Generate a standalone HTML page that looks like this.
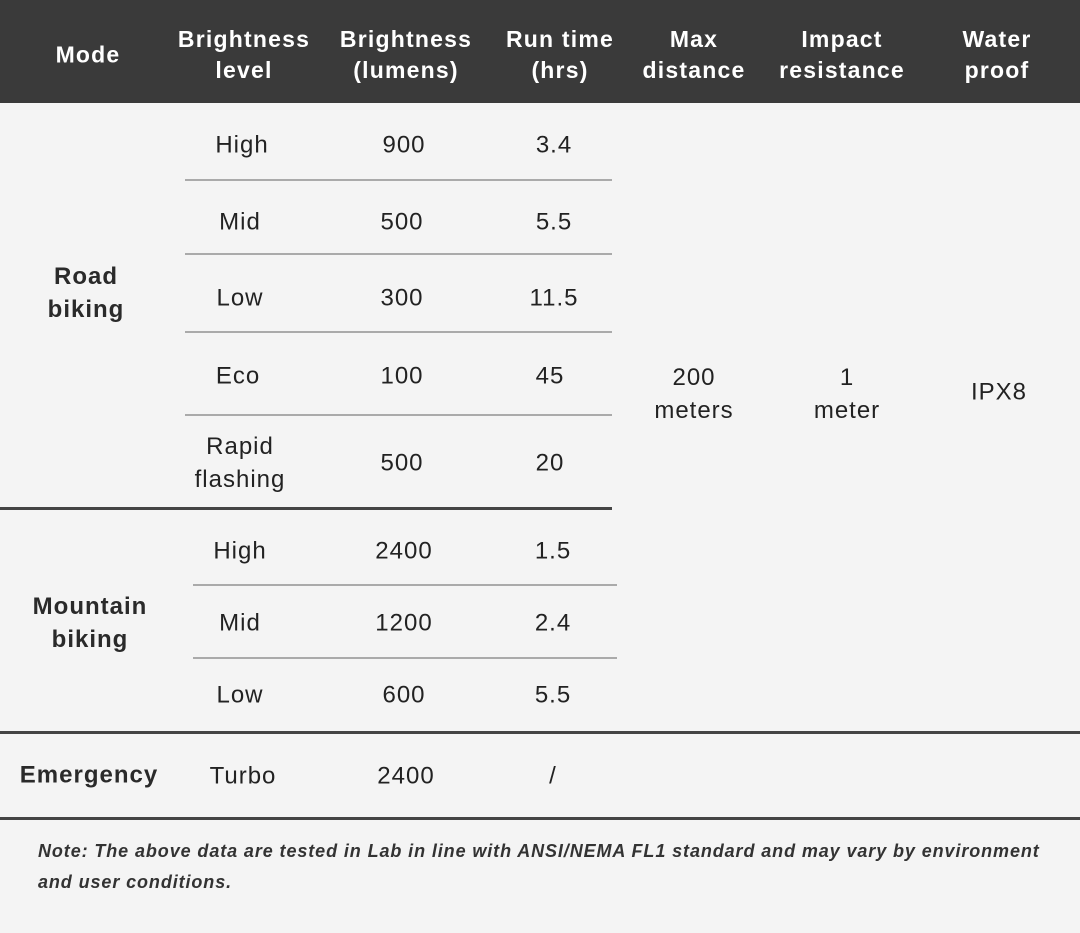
<!DOCTYPE html><html><head><style>
body{margin:0;width:1080px;height:933px;background:#f4f4f4;font-family:"Liberation Sans",sans-serif;color:#222;position:relative;overflow:hidden}
.h{position:absolute;top:0;left:0;width:1080px;height:103px;background:#3a3a3a}
.t{position:absolute;transform:translate(-50%,-50%);text-align:center;font-size:24px;line-height:33px;white-space:nowrap;letter-spacing:1px}
.w{color:#fff;font-weight:bold;font-size:23px;line-height:31px;letter-spacing:1.2px}
.b{font-weight:bold;color:#2a2a2a}
.l{position:absolute;background:#aaa;height:2px}
.k{position:absolute;background:#444;height:3px}
.n{position:absolute;left:38px;top:836px;font-size:18px;font-style:italic;font-weight:bold;color:#333;line-height:31px;letter-spacing:0.9px;white-space:nowrap}
</style></head><body>
<div class="h"></div>
<div class="t w" style="left:88px;top:55px">Mode</div>
<div class="t w" style="left:244px;top:55px">Brightness<br>level</div>
<div class="t w" style="left:406px;top:55px">Brightness<br>(lumens)</div>
<div class="t w" style="left:560px;top:55px">Run time<br>(hrs)</div>
<div class="t w" style="left:694px;top:55px">Max<br>distance</div>
<div class="t w" style="left:842px;top:55px">Impact<br>resistance</div>
<div class="t w" style="left:997px;top:55px">Water<br>proof</div>

<div class="t b" style="left:86px;top:293px">Road<br>biking</div>
<div class="t" style="left:242px;top:145px">High</div><div class="t" style="left:404px;top:145px">900</div><div class="t" style="left:554px;top:145px">3.4</div>
<div class="t" style="left:240px;top:222px">Mid</div><div class="t" style="left:402px;top:222px">500</div><div class="t" style="left:554px;top:222px">5.5</div>
<div class="t" style="left:240px;top:298px">Low</div><div class="t" style="left:402px;top:298px">300</div><div class="t" style="left:554px;top:298px">11.5</div>
<div class="t" style="left:238px;top:376px">Eco</div><div class="t" style="left:402px;top:376px">100</div><div class="t" style="left:550px;top:376px">45</div>
<div class="t" style="left:240px;top:463px">Rapid<br>flashing</div><div class="t" style="left:402px;top:463px">500</div><div class="t" style="left:550px;top:463px">20</div>
<div class="l" style="left:185px;top:179px;width:427px"></div>
<div class="l" style="left:185px;top:253px;width:427px"></div>
<div class="l" style="left:185px;top:331px;width:427px"></div>
<div class="l" style="left:185px;top:414px;width:427px"></div>
<div class="k" style="left:0;top:507px;width:612px"></div>

<div class="t b" style="left:90px;top:623px">Mountain<br>biking</div>
<div class="t" style="left:240px;top:551px">High</div><div class="t" style="left:404px;top:551px">2400</div><div class="t" style="left:553px;top:551px">1.5</div>
<div class="t" style="left:240px;top:623px">Mid</div><div class="t" style="left:404px;top:623px">1200</div><div class="t" style="left:553px;top:623px">2.4</div>
<div class="t" style="left:240px;top:695px">Low</div><div class="t" style="left:404px;top:695px">600</div><div class="t" style="left:553px;top:695px">5.5</div>
<div class="l" style="left:193px;top:584px;width:424px"></div>
<div class="l" style="left:193px;top:657px;width:424px"></div>

<div class="t" style="left:694px;top:394px">200<br>meters</div>
<div class="t" style="left:847px;top:394px">1<br>meter</div>
<div class="t" style="left:999px;top:392px">IPX8</div>

<div class="k" style="left:0;top:731px;width:1080px"></div>
<div class="t b" style="left:89px;top:775px">Emergency</div>
<div class="t" style="left:243px;top:776px">Turbo</div><div class="t" style="left:406px;top:776px">2400</div><div class="t" style="left:553px;top:776px">/</div>
<div class="k" style="left:0;top:817px;width:1080px"></div>
<div class="n">Note: The above data are tested in Lab in line with ANSI/NEMA FL1 standard and may vary by environment<br>and user conditions.</div>
</body></html>
